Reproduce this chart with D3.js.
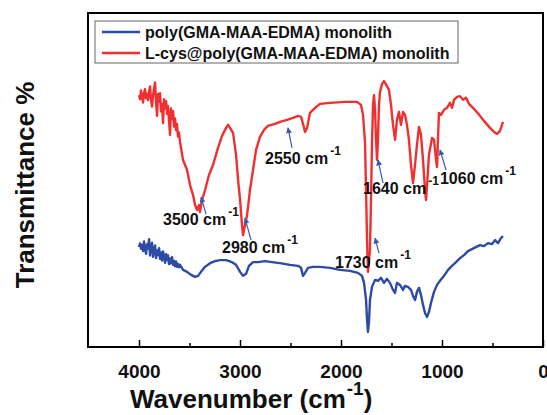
<!DOCTYPE html>
<html><head><meta charset="utf-8">
<script src="https://cdn.jsdelivr.net/npm/d3@7"></script>
<style>body{margin:0;background:#fff}svg{display:block;font-family:"Liberation Sans",Arial,sans-serif;font-weight:bold}</style>
</head><body><svg id="c" width="547" height="415"></svg>
<script>
const seriesNames = ["poly(GMA-MAA-EDMA) monolith", "L-cys@poly(GMA-MAA-EDMA) monolith"];
const seriesColors = ["#2d4aa5", "#f03030"];
const xTicks = [4000, 3000, 2000, 1000, 0];
const xMinorTicks = [3500, 2500, 1500, 500];

const blueWn = [4000,3990,3980,3970,3960,3950,3940,3930,3920,3910,3900,3891,3881,3871,3861,3851,3841,3831,3821,3811,3801,3792,3782,3772,3762,3752,3742,3732,3722,3713,3703,3693,3683,3673,3663,3653,3643,3634,3624,3614,3604,3594,3564,3524,3485,3445,3415,3386,3346,3297,3247,3198,3138,3079,3039,2999,2970,2940,2911,2871,2822,2752,2683,2604,2505,2426,2396,2376,2356,2327,2277,2208,2109,2010,1911,1832,1792,1772,1752,1742,1733,1723,1713,1693,1663,1634,1604,1574,1545,1515,1485,1465,1446,1416,1386,1366,1337,1307,1287,1267,1248,1228,1208,1188,1168,1148,1129,1109,1079,1049,1020,980,940,901,861,822,782,743,703,664,624,584,545,505,475,446,416,396];
const blueT = [29.9,31.0,29.4,30.6,28.7,31.6,29.2,27.9,30.8,29.5,32.3,27.4,29.9,31.2,27.0,28.8,30.4,26.6,28.9,27.5,29.6,26.4,28.3,25.9,28.6,27.1,25.2,27.8,26.0,27.4,24.8,26.5,25.1,26.9,24.6,25.8,24.2,25.6,24.0,24.9,23.9,24.6,23.1,22.5,21.6,21.0,21.3,22.5,24.0,25.1,25.7,26.0,26.0,25.4,24.6,22.5,21.3,21.9,24.3,25.4,25.4,25.7,25.4,25.1,24.6,24.3,23.7,21.3,22.2,23.7,24.0,24.0,23.7,23.1,22.8,22.2,21.3,19.2,14.1,8.1,4.5,7.5,14.1,18.0,20.1,19.8,20.7,19.2,20.4,19.2,17.1,16.2,19.2,18.6,17.1,18.3,18.0,17.1,15.3,14.1,16.5,17.7,15.6,12.6,10.2,9.0,10.5,13.2,16.5,18.6,19.8,21.3,23.1,24.3,25.4,26.6,27.5,28.7,29.3,29.9,30.5,30.2,31.1,30.8,32.0,31.1,32.6,33.2];

const redWn = [4000,3990,3980,3970,3960,3950,3940,3930,3920,3910,3900,3891,3881,3871,3861,3851,3841,3831,3821,3811,3801,3792,3782,3772,3762,3752,3742,3732,3722,3713,3703,3693,3683,3673,3663,3653,3643,3634,3624,3614,3604,3594,3564,3524,3495,3465,3445,3425,3405,3396,3376,3346,3307,3267,3218,3178,3138,3118,3098,3069,3039,3019,2999,2980,2970,2950,2930,2901,2871,2841,2802,2762,2723,2653,2604,2534,2475,2426,2396,2376,2356,2336,2307,2257,2208,2109,1960,1841,1802,1782,1762,1752,1742,1733,1713,1703,1693,1683,1673,1663,1653,1643,1634,1624,1614,1594,1574,1545,1525,1505,1485,1465,1446,1426,1406,1386,1366,1347,1327,1307,1287,1267,1248,1228,1208,1188,1168,1158,1148,1129,1099,1079,1059,1049,1040,1030,1010,980,950,921,901,881,851,822,792,762,733,693,644,584,525,485,455,426,396];
const redT = [75.4,74.2,76.8,75.0,73.2,76.1,77.2,74.5,75.8,73.9,76.5,78.0,74.1,72.0,75.3,77.4,79.2,73.0,69.2,75.8,73.4,76.0,70.5,72.8,67.0,74.2,71.5,73.6,69.8,72.2,67.9,63.5,71.4,68.3,70.6,66.0,68.4,64.9,66.8,63.0,64.2,61.4,56.0,53.0,48.5,45.5,42.5,41.0,42.5,40.4,44.0,47.0,51.5,54.5,59.6,63.2,65.6,66.5,65.6,64.1,57.5,50.0,44.0,36.5,33.5,36.5,39.5,47.0,53.0,59.0,62.9,65.0,66.2,66.8,67.4,68.0,68.6,69.2,68.9,66.8,64.4,65.6,70.1,71.6,72.8,73.1,73.4,73.4,72.5,69.5,61.1,47.0,32.0,22.5,29.0,44.0,61.1,72.5,75.4,71.0,62.0,56.0,62.0,72.5,76.3,78.7,79.6,78.1,77.0,72.5,66.5,62.0,68.0,70.4,66.5,70.4,69.5,66.5,62.0,54.5,49.1,54.5,60.5,65.9,63.5,56.0,47.0,44.0,48.5,57.5,62.6,62.0,56.0,53.9,62.0,70.1,69.5,71.0,71.6,73.1,71.6,74.0,74.9,75.1,74.0,74.6,72.8,71.6,70.0,67.7,65.6,64.4,63.8,64.7,67.4];

// annotations: label, text anchor (wn, T), arrow tail (wn, T), arrow head (wn, T)
const annLabels = ["3500 cm", "2980 cm", "2550 cm", "1640 cm", "1060 cm", "1730 cm"];
const annTextWn = [3762, 3178, 2752, 1782, 1020, 2059];
const annTextT  = [36.5, 28.1, 54.8, 45.8, 48.8, 23.7];
const annTailWn = [3336, 2891, 2485, 1584, 960, 1624];
const annTailT  = [39.8, 32.0, 59.6, 49.1, 53.0, 28.1];
const annHeadWn = [3386, 2950, 2525, 1634, 1020, 1663];
const annHeadT  = [44.9, 38.6, 65.6, 56.0, 59.0, 32.6];

const svg = d3.select("#c");
const L = 88, R = 543, T = 13, B = 347;
const x = d3.scaleLinear().domain([4505, 0]).range([L, R]);
const y = d3.scaleLinear().domain([0, 100]).range([B, T]);

const defs = svg.append("defs");
defs.append("marker").attr("id","ah").attr("viewBox","0 0 10 10").attr("refX",9).attr("refY",5)
  .attr("markerWidth",6).attr("markerHeight",6).attr("orient","auto-start-reverse").attr("markerUnits","userSpaceOnUse")
  .append("path").attr("d","M0,0 L10,5 L0,10 z").attr("fill","#3a5ab0");

const line = d3.line().x(d => x(d[0])).y(d => y(d[1]));
const blue = blueWn.map((w,i) => [w, blueT[i]]);
const red = redWn.map((w,i) => [w, redT[i]]);

svg.append("path").datum(blue).attr("d", line).attr("fill","none").attr("stroke",seriesColors[0]).attr("stroke-width",2.4).attr("stroke-linejoin","round");
svg.append("path").datum(red).attr("d", line).attr("fill","none").attr("stroke",seriesColors[1]).attr("stroke-width",2.4).attr("stroke-linejoin","round");

// annotations
annLabels.forEach((lab, i) => {
  svg.append("line").attr("x1", x(annTailWn[i])).attr("y1", y(annTailT[i]))
    .attr("x2", x(annHeadWn[i])).attr("y2", y(annHeadT[i]))
    .attr("stroke","#3a5ab0").attr("stroke-width",1.2).attr("marker-end","url(#ah)");
  const t = svg.append("text").attr("x", x(annTextWn[i])).attr("y", y(annTextT[i]))
    .attr("font-size", 16).attr("fill","#111");
  t.append("tspan").text(lab);
  t.append("tspan").attr("dy",-9).attr("dx",2).attr("font-size",12).text("-1");
});

// frame
svg.append("rect").attr("x",L).attr("y",T).attr("width",R-L).attr("height",B-T)
  .attr("fill","none").attr("stroke","#000").attr("stroke-width",2);

// x axis with inward ticks
const ax = svg.append("g").attr("transform",`translate(0,${B})`)
  .call(d3.axisBottom(x).tickValues(xTicks).tickSize(-7).tickFormat(d3.format("d")).tickPadding(18));
ax.select(".domain").remove();
ax.selectAll(".tick line").attr("stroke","#000").attr("stroke-width",1.5);
ax.selectAll(".tick text").attr("font-size",19).attr("font-family","Liberation Sans, Arial, sans-serif").attr("font-weight","bold").attr("fill","#111");
const axm = svg.append("g").attr("transform",`translate(0,${B})`)
  .call(d3.axisBottom(x).tickValues(xMinorTicks).tickSize(-4).tickFormat(""));
axm.select(".domain").remove();
axm.selectAll(".tick line").attr("stroke","#000").attr("stroke-width",1.5);

// axis titles
const xt = svg.append("text").attr("x",130).attr("y",408).attr("font-size",26).attr("fill","#111");
xt.append("tspan").text("Wavenumber (cm");
xt.append("tspan").attr("dy",-13).attr("dx",1).attr("font-size",19).text("-1");
xt.append("tspan").attr("dy",13).text(")");

svg.append("text").attr("transform","translate(34,185) rotate(-90)").attr("text-anchor","middle")
  .attr("font-size",26).attr("fill","#111").text("Transmittance %");

// legend
const lg = svg.append("g");
lg.append("rect").attr("x",95).attr("y",21).attr("width",363).attr("height",42)
  .attr("fill","#fff").attr("stroke","#666").attr("stroke-width",1);
seriesNames.forEach((n,i) => {
  const cy = 32 + i*21;
  lg.append("line").attr("x1",102).attr("x2",140).attr("y1",cy).attr("y2",cy)
    .attr("stroke",seriesColors[i]).attr("stroke-width",2.5);
  lg.append("text").attr("x",145).attr("y",cy+6).attr("font-size",16).attr("fill","#111").text(n);
});
</script></body></html>
